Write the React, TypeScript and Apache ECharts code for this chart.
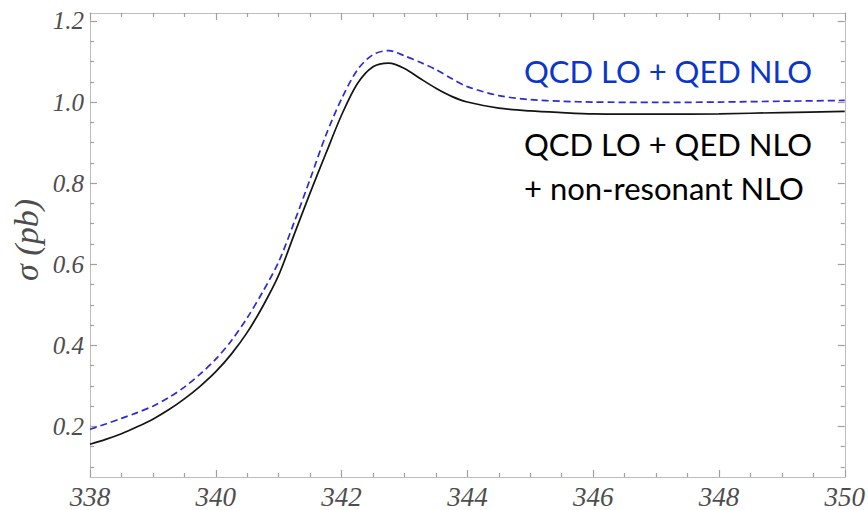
import { useEffect, useRef } from "react";
import * as echarts from "echarts";

// Centre-of-mass energy (GeV)
const energies = [
  338, 338.25, 338.5, 338.75, 339, 339.25, 339.5, 339.75, 340, 340.25, 340.5,
  340.75, 341, 341.25, 341.5, 341.75, 342, 342.25, 342.5, 342.75, 343, 343.25,
  343.5, 343.75, 344, 344.5, 345, 345.5, 346, 347, 348, 349, 350,
];

// σ (pb): QCD LO + QED NLO + non-resonant NLO
const sigmaNonRes = [
  0.156, 0.168, 0.182, 0.199, 0.218, 0.241, 0.268, 0.299, 0.335, 0.379, 0.432,
  0.497, 0.573, 0.675, 0.776, 0.873, 0.968, 1.045, 1.087, 1.096, 1.083, 1.058,
  1.034, 1.014, 1.0, 0.985, 0.978, 0.974, 0.971, 0.97, 0.971, 0.974, 0.977,
];

// σ (pb): QCD LO + QED NLO
const sigmaQed = [
  0.193, 0.206, 0.22, 0.234, 0.25, 0.271, 0.297, 0.329, 0.366, 0.412, 0.468,
  0.533, 0.606, 0.705, 0.81, 0.918, 1.008, 1.079, 1.117, 1.127, 1.114, 1.098,
  1.08, 1.058, 1.038, 1.016, 1.006, 1.002, 1.0, 0.999, 1.0, 1.002, 1.004,
];

const yMajorTicks = [0.2, 0.4, 0.6, 0.8, 1.0, 1.2];
const yMinorTicks = [
  0.1, 0.15, 0.25, 0.3, 0.35, 0.45, 0.5, 0.55, 0.65, 0.7, 0.75, 0.85, 0.9,
  0.95, 1.05, 1.1, 1.15,
];

const labelQed = "QCD LO + QED NLO";
const labelNonRes1 = "QCD LO + QED NLO";
const labelNonRes2 = "+ non-resonant NLO";
const yName = "σ (pb)";

const X_MIN = 338;
const X_MAX = 350;
const Y_MIN = 0.0753;
const Y_MAX = 1.2196;

const FRAME = "#bdbdbd";
const TICK = "#a0a0a0";
const LABEL = "#4d4d4d";
const SERIF = "Liberation Serif";
const SANS = "Lato";

export default function App() {
  const ref = useRef<HTMLDivElement>(null);

  useEffect(() => {
    if (!ref.current) return;
    const chart = echarts.init(ref.current, undefined, { renderer: "svg" });

    const xBase = {
      type: "value" as const,
      min: X_MIN,
      max: X_MAX,
      interval: 2,
      axisLine: { show: true, lineStyle: { color: FRAME, width: 1 } },
      axisTick: { show: true, inside: true, length: 7, lineStyle: { color: TICK, width: 1.2 } },
      minorTick: { show: true, splitNumber: 4, length: 4, lineStyle: { color: TICK, width: 1.2 } },
      splitLine: { show: false },
      minorSplitLine: { show: false },
    };

    const yBase = (position: "left" | "right", values: number[], len: number) => ({
      type: "value" as const,
      min: Y_MIN,
      max: Y_MAX,
      position,
      axisLine: { show: true, lineStyle: { color: FRAME, width: 1 } },
      axisTick: {
        show: true,
        inside: true,
        length: len,
        customValues: values,
        lineStyle: { color: TICK, width: 1.2 },
      },
      axisLabel: { show: false },
      splitLine: { show: false },
    });

    const toPairs = (ys: number[]) => energies.map((e, i) => [e, ys[i]]);

    chart.setOption({
      animation: false,
      grid: { left: 90, right: 17, top: 13, bottom: 29, containLabel: false },
      xAxis: [
        {
          ...xBase,
          position: "bottom",
          axisLabel: {
            show: true,
            margin: 6,
            color: LABEL,
            fontFamily: SERIF,
            fontStyle: "italic",
            fontSize: 27,
            formatter: (v: number) => String(v),
          },
        },
        { ...xBase, position: "top", axisLabel: { show: false } },
      ],
      yAxis: [
        {
          ...yBase("left", yMajorTicks, 7),
          axisLabel: {
            show: true,
            customValues: yMajorTicks,
            margin: 6,
            color: LABEL,
            fontFamily: SERIF,
            fontStyle: "italic",
            fontSize: 25,
            formatter: (v: number) => v.toFixed(1),
          },
        },
        yBase("left", yMinorTicks, 4),
        yBase("right", yMajorTicks, 7),
        yBase("right", yMinorTicks, 4),
      ],
      series: [
        {
          type: "line",
          xAxisIndex: 0,
          yAxisIndex: 0,
          data: toPairs(sigmaQed),
          smooth: 0.3,
          showSymbol: false,
          lineStyle: { color: "#2a2ad8", width: 1.7, type: [7, 4] },
          z: 3,
        },
        {
          type: "line",
          xAxisIndex: 0,
          yAxisIndex: 0,
          data: toPairs(sigmaNonRes),
          smooth: 0.3,
          showSymbol: false,
          lineStyle: { color: "#141414", width: 1.7 },
          z: 2,
        },
      ],
      graphic: [
        {
          type: "text",
          x: 26,
          y: 240,
          rotation: Math.PI / 2,
          style: {
            text: yName,
            fontFamily: SERIF,
            fontStyle: "italic",
            fontSize: 34,
            fill: LABEL,
            align: "center",
            verticalAlign: "middle",
          },
        },
        {
          type: "text",
          x: 524,
          y: 71,
          style: {
            text: labelQed,
            fontFamily: SANS,
            fontSize: 31,
            fill: "#0b36c9",
            align: "left",
            verticalAlign: "middle",
          },
        },
        {
          type: "text",
          x: 524,
          y: 144,
          style: {
            text: labelNonRes1,
            fontFamily: SANS,
            fontSize: 31,
            fill: "#000000",
            align: "left",
            verticalAlign: "middle",
          },
        },
        {
          type: "text",
          x: 524,
          y: 188,
          style: {
            text: labelNonRes2,
            fontFamily: SANS,
            fontSize: 31,
            fill: "#000000",
            align: "left",
            verticalAlign: "middle",
          },
        },
      ],
    });

    return () => chart.dispose();
  }, []);

  return (
    <div
      ref={ref}
      style={{ position: "fixed", left: 0, top: 0, width: 868, height: 510, background: "#ffffff" }}
    />
  );
}
